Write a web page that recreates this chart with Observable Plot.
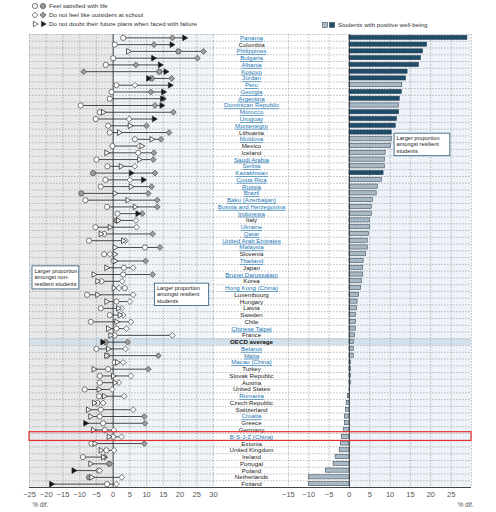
<!DOCTYPE html>
<html><head><meta charset="utf-8">
<script src="https://cdn.jsdelivr.net/npm/d3@7"></script>
<script src="https://cdn.jsdelivr.net/npm/@observablehq/plot@0.6"></script>
<style>
body{margin:0;background:#fff;}
#wrap{position:relative;width:496px;height:512px;overflow:hidden;background:#fff;}
#wrap svg{position:absolute;top:0;}
</style></head><body><div id="wrap"></div>
<script>
const countries = ["Panama","Colombia","Philippines","Bulgaria","Albania","Kosovo","Jordan","Peru","Georgia","Argentina","Dominican Republic","Morocco","Uruguay","Montenegro","Lithuania","Moldova","Mexico","Iceland","Saudi Arabia","Serbia","Kazakhstan","Costa Rica","Russia","Brazil","Baku (Azerbaijan)","Bosnia and Herzegovina","Indonesia","Italy","Ukraine","Qatar","United Arab Emirates","Malaysia","Slovenia","Thailand","Japan","Brunei Darussalam","Korea","Hong Kong (China)","Luxembourg","Hungary","Latvia","Sweden","Chile","Chinese Taipei","France","OECD average","Belarus","Malta","Macao (China)","Turkey","Slovak Republic","Austria","United States","Romania","Czech Republic","Switzerland","Croatia","Greece","Germany","B-S-J-Z (China)","Estonia","United Kingdom","Ireland","Portugal","Poland","Netherlands","Finland"];
const isPartner = [1,0,1,1,1,1,1,1,1,1,1,1,1,1,0,1,0,0,1,1,1,1,1,1,1,1,1,0,1,1,1,1,0,1,0,1,0,1,0,0,0,0,0,1,0,0,1,1,1,0,0,0,0,1,0,0,1,0,0,1,0,0,0,0,0,0,0];
// Feel satisfied with life (circles)
const satisfied = [3,0.5,19.5,0,-2.2,13.8,11.5,1,-0.5,-1,-9.7,-4,-5.2,-1.5,-1,6.5,-0.2,7.5,-5,-1.7,-6,-2.3,-3.7,-9.5,-8.3,-1.8,1.3,1,-5.3,-2.7,-7.2,9.5,-2.7,0.1,3.2,3,-3.5,3.5,-7.8,1,-3.7,-1,-6.7,1,0.5,-2.2,-5,-1.8,0.5,-1.5,-4,-4,-8.5,-4.2,-4.7,-3.7,-4,-3,-2.5,0,-6.5,-2,-9,-1.2,-4.3,-7.2,-1.8];
const satisfiedSig = [0,0,1,0,0,1,1,0,0,0,0,0,0,0,0,0,0,0,0,0,1,0,0,1,0,0,0,1,0,0,0,0,0,0,0,0,0,0,0,0,0,0,0,0,0,1,0,0,0,0,0,0,0,0,0,0,0,0,0,0,0,0,0,0,0,1,0];
// Do not feel like outsiders at school (diamonds)
const outsiders = [17.7,12.2,27,25.2,6.8,-8.8,17.5,6.5,11.3,15,12.5,18,4.8,10,16.7,14.3,7.8,12.2,12,6.5,12.5,5,11.5,10.5,13.2,13.2,8.7,6.8,7,11.8,3.7,14,-1,9.7,6,11.8,2.7,1.7,6,5,2.5,3,5.3,4,17.7,4.3,3.7,13.5,3,10.5,5.3,1.7,-0.3,3.3,-3,6,9.3,9.5,0.2,2.5,9.3,0.3,-2.5,-1,-4,2.6,1];
const outsidersSig = [1,1,1,1,1,1,1,0,1,1,1,1,0,1,1,1,0,1,1,0,1,0,1,1,1,1,1,0,0,1,0,1,0,1,0,1,0,0,0,0,0,0,0,0,0,1,0,1,0,1,0,0,0,0,0,0,1,1,0,0,1,0,1,1,0,0,0];
// Do not doubt their future plans when faced with failure (triangles)
const future = [21.3,17.5,4.5,12,14,15.7,10.5,17,15,14.7,14.5,-3,12.2,5,1.8,11.5,8.5,-2,7.8,2.3,5.3,9,5.3,0.5,4.3,6.5,7.3,1.5,-1,-3.7,3,0.5,0.5,0.5,-2,-5.8,-4.7,0.2,-4.7,-2,1.5,2,1,-1.5,-0.8,-3.2,-1.5,-2,1.2,-5.8,0,0.5,-4.3,-2.7,-5.7,-7.5,-6.8,-8.3,-6,-1.3,-5.5,-3.7,-3,-6.8,-11.8,-6.5,-18.5];
const futureSig = [1,1,0,1,1,1,1,1,1,1,1,0,1,0,0,0,0,0,0,0,1,1,0,0,0,0,1,0,0,0,0,0,0,0,0,0,0,0,0,0,0,0,0,0,0,1,0,0,0,0,0,0,0,0,0,0,0,1,0,0,0,0,0,0,1,0,1];
// Students with positive well-being (bars)
const wellbeing = [29,19.1,18.1,17.6,17.1,14.3,13.9,13,12.9,12.4,12.2,12.2,11.7,11.4,10.4,10.4,10.2,8.9,8.7,8.7,8.4,8,7,6.7,5.8,5.5,5.5,5,5,4.8,4.5,4.5,4.1,3.5,3.4,3.4,3.1,2.9,2.4,2,1.9,1.6,1.6,1.6,1.4,1.1,1.1,1.1,0.4,0.4,0.4,0.4,0.2,-0.4,-0.7,-0.9,-1.1,-1.1,-1.4,-1.9,-2.1,-2.4,-3.4,-3.9,-5.8,-10,-10];
const wellbeingSig = [1,1,1,1,1,1,1,0,1,1,0,1,1,1,1,0,0,0,0,0,1,0,0,0,0,0,0,0,0,0,0,0,0,0,0,0,0,0,0,0,0,0,0,0,0,0,0,0,0,0,0,0,0,0,0,0,0,0,0,0,0,0,0,0,0,0,0];
const leftTicks = [-25,-20,-15,-10,-5,0,5,10,15,20,25,30];
const rightTicks = [-15,-10,-5,0,5,10,15,20,25];
const rightGrid = [-15,-10,-5,0,5,10,15,20,25,30];
const legendItems = ["Feel satisfied with life","Do not feel like outsiders at school","Do not doubt their future plans when faced with failure"];
const barLegend = "Students with positive well-being";
const highlight = "B-S-J-Z (China)";
const avgRow = "OECD average";

const rows = countries.map((c,i)=>{
  const r = {country:c, partner:isPartner[i], sat:satisfied[i], satSig:satisfiedSig[i], out:outsiders[i], outSig:outsidersSig[i], fut:future[i], futSig:futureSig[i], wb:wellbeing[i], wbSig:wellbeingSig[i]};
  r.lo = Math.min(r.sat,r.out,r.fut); r.hi = Math.max(r.sat,r.out,r.fut);
  return r;
});

const W=496, H=512, MT=34, MB=25, SPLIT=213;
const FONT='"Liberation Sans", Arial, sans-serif';
const DASH="1.6,1.4", GRIDC="#959595";
const bw=(H-MT-MB)/countries.length;
const first=countries[0], last=countries[countries.length-1];
const leftDomain=[-25,30], rightDomain=[-33.4,30];
const GREY="#9d9d9d", DARKBAR="#1f4c69", LIGHTBAR="#a9b8c5", BLUE="#2478b4";
const LABEL_SIZE=6.2;

function sepMarks(){ return [
  Plot.ruleY(countries,{y:d=>d, dy:bw/2, stroke:GRIDC, strokeWidth:0.6, strokeDasharray:DASH}),
  Plot.ruleY([first],{y:d=>d, dy:-bw/2, stroke:GRIDC, strokeWidth:0.6, strokeDasharray:DASH}),
  Plot.ruleY([last],{y:d=>d, dy:bw/2, stroke:"#333", strokeWidth:0.9})
];}

const left = Plot.plot({
  width:SPLIT+2, height:H, marginTop:MT, marginBottom:MB, marginLeft:29, marginRight:2,
  x:{domain:leftDomain}, y:{type:"band", domain:countries, padding:0, axis:null},
  color:{type:"identity"},
  style:{fontFamily:FONT, background:"transparent", overflow:"visible"},
  marks:[
    Plot.rect([0],{x1:leftDomain[0], x2:0, fill:"#e6e8ea"}),
    Plot.rect([0],{x1:0, x2:leftDomain[1], fill:"#eff4f8"}),
    Plot.barX([avgRow],{y:d=>d, x1:leftDomain[0], x2:leftDomain[1], fill:"#d2e1ec"}),
    Plot.gridX({ticks:leftTicks, stroke:GRIDC, strokeOpacity:1, strokeWidth:0.6, strokeDasharray:DASH}),
    ...sepMarks(),
    Plot.ruleX([0],{stroke:"#333", strokeWidth:0.9}),
    Plot.ruleY(rows,{y:"country", x1:"lo", x2:"hi", stroke:"#333", strokeWidth:0.9}),
    Plot.dot(rows,{x:"sat", y:"country", symbol:"circle", r:2.6, fill:d=>d.satSig?GREY:"#fff", stroke:"#555", strokeWidth:0.8}),
    Plot.dot(rows,{x:"out", y:"country", symbol:"diamond2", r:2.6, fill:d=>d.outSig?GREY:"#fff", stroke:"#555", strokeWidth:0.8}),
    Plot.dot(rows,{x:"fut", y:"country", symbol:"triangle", rotate:90, r:2.1, fill:d=>d.futSig?"#111":"#fff", stroke:"#333", strokeWidth:0.8}),
    Plot.axisX({ticks:leftTicks, tickSize:0, tickPadding:4, fontSize:7.5, color:"#555", label:null}),
    Plot.text(["% dif."],{frameAnchor:"bottom-left", textAnchor:"start", dx:3, dy:19, fontSize:6.3, fill:"#555"})
  ]
});

const right = Plot.plot({
  width:W-SPLIT, height:H, marginTop:MT, marginBottom:MB, marginLeft:0, marginRight:25,
  x:{domain:rightDomain}, y:{type:"band", domain:countries, padding:0, axis:null},
  color:{type:"identity"},
  style:{fontFamily:FONT, background:"transparent", overflow:"visible"},
  marks:[
    Plot.rect([0],{x1:0, x2:rightDomain[1], fill:"#edf3f8"}),
    Plot.barX([avgRow],{y:d=>d, x1:rightDomain[0], x2:rightDomain[1], fill:"#d2e1ec"}),
    Plot.gridX({ticks:rightGrid, stroke:GRIDC, strokeOpacity:1, strokeWidth:0.6, strokeDasharray:DASH}),
    ...sepMarks(),
    Plot.barX(rows,{x:"wb", y:"country", insetTop:1.3, insetBottom:1.3, fill:d=>d.wbSig?DARKBAR:LIGHTBAR, stroke:"#243a4a", strokeWidth:0.5}),
    Plot.ruleX([0],{stroke:"#333", strokeWidth:0.9}),
    Plot.text(rows.filter(d=>d.partner),{y:"country", text:"country", frameAnchor:"left", textAnchor:"middle", dx:38, fontSize:LABEL_SIZE, fill:BLUE}),
    Plot.text(rows.filter(d=>!d.partner && d.country!==avgRow),{y:"country", text:"country", frameAnchor:"left", textAnchor:"middle", dx:38, fontSize:LABEL_SIZE, fill:"#1a1a1a"}),
    Plot.text([avgRow],{y:d=>d, text:d=>d, frameAnchor:"left", textAnchor:"middle", dx:38, fontSize:LABEL_SIZE, fontWeight:"bold", fill:"#111"}),
    Plot.axisX({ticks:rightTicks, tickSize:0, tickPadding:4, fontSize:7.5, color:"#555", label:null}),
    Plot.text(["% dif."],{frameAnchor:"bottom-right", textAnchor:"end", dx:2, dy:19, fontSize:6.3, fill:"#555"})
  ]
});

const wrap=document.getElementById("wrap");
left.style.left="0px"; right.style.left=SPLIT+"px";
wrap.appendChild(left); wrap.appendChild(right);
d3.select(right).selectAll(`g[fill="${BLUE}"] text`).attr("text-decoration","underline");

// overlay: legends, annotations, highlight
const ov=d3.select(wrap).append("svg").attr("width",W).attr("height",H).style("left","0px").style("pointer-events","none")
  .attr("font-family",FONT);
const lx=left.scale("x"), ly=left.scale("y"), rx=right.scale("x"), ry=right.scale("y");
const sym=(type,r)=>d3.symbol(type, Math.PI*r*r)();
const legY=[6,15,24];
const legSyms=[[d3.symbolCircle,2.6,GREY,0],[d3.symbolDiamond2,2.6,GREY,0],[d3.symbolTriangle,2.1,"#111",90]];
legendItems.forEach((t,i)=>{
  const [type,r,fillc,rot]=legSyms[i];
  ov.append("path").attr("d",sym(type,r)).attr("fill","#fff").attr("stroke","#555").attr("stroke-width",0.8)
    .attr("transform",`translate(35,${legY[i]}) rotate(${rot})`);
  ov.append("path").attr("d",sym(type,r)).attr("fill",fillc).attr("stroke","#555").attr("stroke-width",0.8)
    .attr("transform",`translate(43,${legY[i]}) rotate(${rot})`);
  ov.append("text").attr("x",49).attr("y",legY[i]).attr("dy","0.35em").attr("font-size",6.2).attr("fill","#333").text(t);
});
ov.append("rect").attr("x",322.5).attr("y",22.5).attr("width",5).attr("height",5).attr("fill",LIGHTBAR).attr("stroke","#243a4a").attr("stroke-width",0.5);
ov.append("rect").attr("x",329.5).attr("y",22.5).attr("width",5).attr("height",5).attr("fill",DARKBAR).attr("stroke","#243a4a").attr("stroke-width",0.5);
ov.append("text").attr("x",338).attr("y",25).attr("dy","0.35em").attr("font-size",6.2).attr("fill","#333").text(barLegend);

const notes=[
  {panel:"left", x1:-24.1, x2:-10.1, top:"Japan", padTop:2, bottom:"Hong Kong (China)", padBottom:-2, lines:["Larger proportion","amongst non-","resilient students"]},
  {panel:"left", x1:12.5, x2:28.7, top:"Hong Kong (China)", padTop:-1, bottom:"Hungary", padBottom:1, lines:["Larger proportion","amongst resilient","students"]},
  {panel:"right", x1:11.1, x2:24.8, top:"Lithuania", padTop:4.5, bottom:"Iceland", padBottom:0, lines:["Larger proportion","amongst resilient","students"]}
];
notes.forEach(n=>{
  const sx = n.panel==="left" ? (v=>lx.apply(v)) : (v=>SPLIT+rx.apply(v));
  const sy = n.panel==="left" ? ly : ry;
  const x0=sx(n.x1), x1=sx(n.x2);
  const y0=sy.apply(n.top)+n.padTop, y1=sy.apply(n.bottom)+bw+n.padBottom;
  ov.append("rect").attr("x",x0).attr("y",y0).attr("width",x1-x0).attr("height",y1-y0)
    .attr("fill","#fff").attr("stroke","#2a5878").attr("stroke-width",0.8);
  const step=6.3, start=y0+(y1-y0-step*n.lines.length)/2+step/2;
  n.lines.forEach((t,i)=>ov.append("text").attr("x",x0+2.5).attr("y",start+step*i).attr("dy","0.35em")
    .attr("font-size",5.6).attr("fill","#222").text(t));
});
const hy=ly.apply(highlight);
ov.append("rect").attr("x",lx.apply(leftDomain[0])).attr("y",hy-1.2).attr("width",SPLIT+rx.apply(rightDomain[1])-lx.apply(leftDomain[0])).attr("height",bw+2)
  .attr("fill","none").attr("stroke","#e0302f").attr("stroke-width",1.2);
</script></body></html>
